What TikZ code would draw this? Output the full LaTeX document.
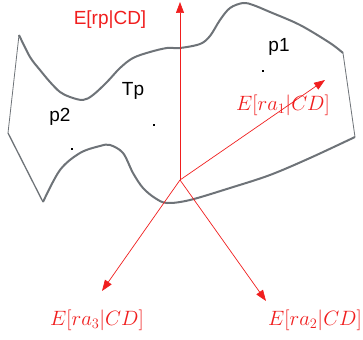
\documentclass[tikz,border=0pt]{standalone}
\usepackage{fontspec}
\setsansfont{Liberation Sans}
\usepackage{tikz}
\usetikzlibrary{arrows.meta,positioning}
\definecolor{axisred}{HTML}{F01E1E}
\definecolor{rim}{HTML}{6E7378}

\begin{document}
\begin{tikzpicture}[x=1pt,y=-1pt,>={Triangle[length=11pt,width=8pt]},
  axis/.style={->,color=axisred,line width=0.7pt},
  edge/.style={color=rim,line width=2pt,line join=round},
  side/.style={color=rim,line width=0.8pt},
  lbl/.style={font=\sffamily\fontsize{19}{23}\selectfont,inner sep=0pt},
  mlbl/.style={color=axisred,font=\fontsize{20}{24}\selectfont,inner sep=0pt},
  dot/.style={fill=black,inner sep=0pt,minimum size=2.6pt}]
  \useasboundingbox (0,0) rectangle (363,339);
  \draw[edge] plot[smooth,tension=0.55] coordinates {(19,35) (30,57) (40,70) (50,82) (60,92) (70,97)
    (83,100) (93,95) (107,82) (120,68) (133,58) (150,52) (167,48) (180,48) (200,44) (210,36) (220,20)
    (230,8) (243,3) (253,5) (270,12) (300,25) (330,43) (343,53)};
  \draw[edge] plot[smooth,tension=0.55] coordinates {(43,202) (60,170) (80,153) (100,146) (110,145)
    (123,153) (133,173) (143,188) (155,198) (167,203) (190,200) (230,188) (270,175) (310,158) (355,137)};
  \draw[side] (19,35) -- (8,133);
  \draw[edge,line width=1.3pt] (8,133) -- (43,202);
  \draw[side] (343,53) -- (355,137);
  \coordinate (o) at (180,180);
  \coordinate (up) at (180,2);
  \coordinate (a1) at (325,80);
  \coordinate (a2) at (266,301);
  \coordinate (a3) at (102,291);
  \draw[axis] (o) -- (up);
  \draw[axis] (o) -- (a1);
  \draw[axis] (o) -- (a2);
  \draw[axis] (o) -- (a3);
  \node[lbl,text=axisred] (rp) at (110,20) {E[rp|CD]};
  \node[mlbl] (l1) at (283,105) {$E[ra_1|CD]$};
  \node[mlbl] (l3) at (97,320) {$E[ra_3|CD]$};
  \node[mlbl] (l2) at (315,320) {$E[ra_2|CD]$};
  \node[dot] (d1) at (263,71) {};
  \node[dot] (dt) at (154,125) {};
  \node[dot] (d2) at (72,149) {};
  \node[lbl] (p1) at (279,47) {p1};
  \node[lbl] (tp) at (133,91) {Tp};
  \node[lbl] (p2) at (60,117) {p2};
\end{tikzpicture}
\end{document}
